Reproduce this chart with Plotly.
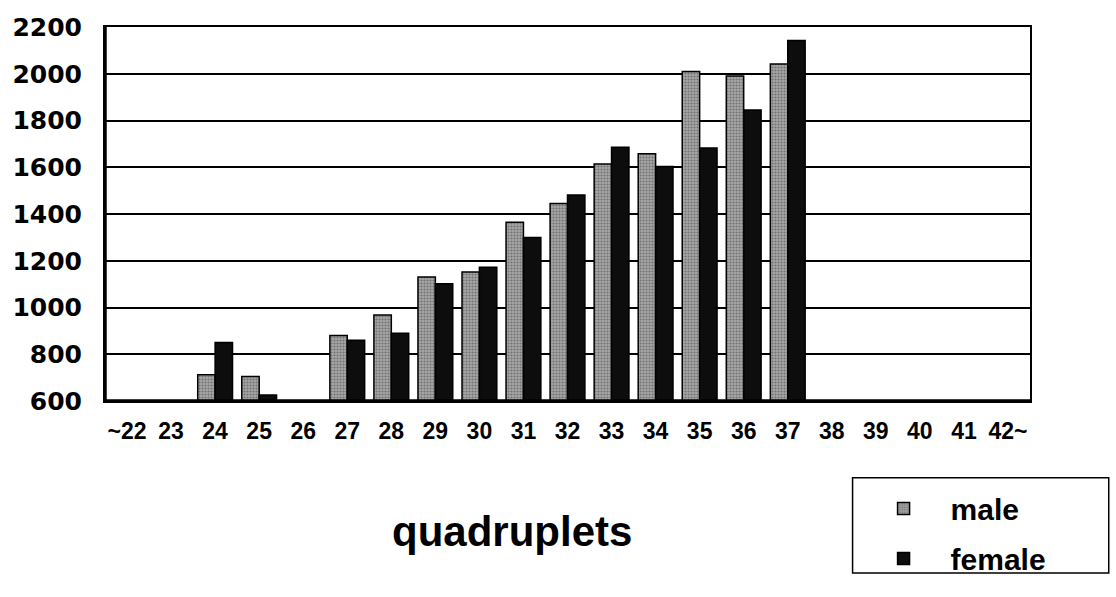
import plotly.graph_objects as go

categories = ["~22", "23", "24", "25", "26", "27", "28", "29", "30", "31", "32",
              "33", "34", "35", "36", "37", "38", "39", "40", "41", "42~"]
male = [None, None, 712, 705, None, 880, 968, 1130, 1152, 1365, 1445,
        1614, 1658, 2010, 1990, 2042, None, None, None, None, None]
female = [None, None, 850, 626, None, 860, 890, 1102, 1172, 1300, 1481,
          1686, 1603, 1682, 1845, 2142, None, None, None, None, None]
y_ticks = [600, 800, 1000, 1200, 1400, 1600, 1800, 2000, 2200]
title_text = "quadruplets"

W, H = 1116, 597
L, R, T, B = 102, 86, 27, 185
pw, ph = W - L - R, H - T - B


def px(x):
    return (x - L) / pw


def py(y):
    return (H - B - y) / ph


fig = go.Figure()
fig.add_trace(go.Bar(
    x=categories, y=male, name="male", legendgroup="m",
    marker=dict(color="#999999",
                line=dict(color="black", width=1.5),
                pattern=dict(shape=".", fgcolor="#3a3a3a", bgcolor="#a8a8a8",
                             size=3, solidity=0.4)),
))
fig.add_trace(go.Bar(
    x=categories, y=female, name="female", legendgroup="f",
    marker=dict(color="#0d0d0d",
                line=dict(color="black", width=1.5)),
))

fig.update_layout(
    width=W, height=H,
    margin=dict(l=L, r=R, t=T, b=B),
    paper_bgcolor="white", plot_bgcolor="white",
    barmode="group", bargap=0.21, bargroupgap=0,
    font=dict(family="Liberation Sans", color="black"),
    showlegend=True,
    legend=dict(
        x=px(856), y=py(496), xanchor="left", yanchor="top",
        bgcolor="rgba(0,0,0,0)", borderwidth=0,
        font=dict(family="Liberation Sans", size=30, color="black", weight="bold"),
        itemwidth=84, tracegroupgap=8,
    ),
    xaxis=dict(
        type="category", categoryorder="array", categoryarray=categories,
        showline=True, linecolor="black", linewidth=2, mirror=True,
        ticks="", showgrid=False,
        tickfont=dict(family="Liberation Sans", size=23, color="black", weight="bold"),
        ticklabelstandoff=8,
    ),
    yaxis=dict(
        range=[600, 2200], tickvals=y_ticks,
        showline=True, linecolor="black", linewidth=2, mirror=True,
        ticks="", showgrid=True, gridcolor="black", gridwidth=1.5,
        tickfont=dict(family="DejaVu Sans", size=25, color="black", weight="bold"),
        ticklabelstandoff=16, zeroline=False,
    ),
    shapes=[
        dict(type="line", xref="paper", yref="paper", x0=0, x1=0, y0=0, y1=1,
             line=dict(color="black", width=3.5)),
        dict(type="line", xref="paper", yref="paper", x0=0, x1=1, y0=0, y1=0,
             line=dict(color="black", width=3.5)),
        dict(type="rect", xref="paper", yref="paper",
             x0=px(852), x1=px(1109), y0=py(589), y1=py(491),
             line=dict(color="black", width=1.5), fillcolor="rgba(0,0,0,0)"),
    ],
    annotations=[dict(text=title_text, xref="paper", yref="paper",
                      x=px(510), y=py(546), xanchor="center", yanchor="middle",
                      showarrow=False,
                      font=dict(family="Liberation Sans", size=42, color="black",
                                weight="bold"))],
)

fig.write_html("out.html")
